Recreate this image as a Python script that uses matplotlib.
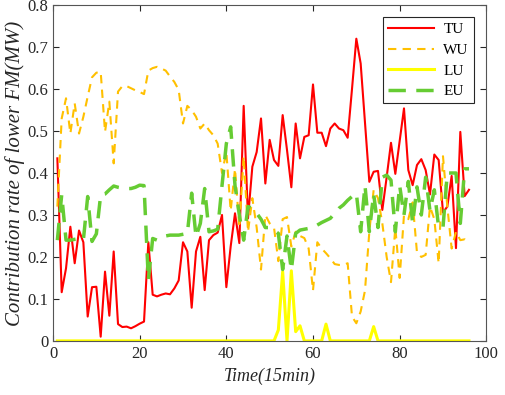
import numpy as np
import matplotlib
matplotlib.use('Agg')
import matplotlib.pyplot as plt

plt.rcParams['font.family'] = ['Liberation Serif', 'DejaVu Serif']

t = np.arange(1, 97)

tu = [0.435, 0.116, 0.173, 0.272, 0.185, 0.263, 0.235, 0.058, 0.128, 0.129,
      0.010, 0.165, 0.060, 0.213, 0.040, 0.033, 0.034, 0.030, 0.035, 0.041,
      0.046, 0.235, 0.110, 0.106, 0.110, 0.113, 0.111, 0.125, 0.144, 0.235,
      0.213, 0.079, 0.213, 0.248, 0.121, 0.240, 0.252, 0.258, 0.300, 0.128,
      0.225, 0.304, 0.233, 0.560, 0.292, 0.415, 0.450, 0.530, 0.375, 0.479,
      0.431, 0.417, 0.538, 0.455, 0.366, 0.518, 0.435, 0.486, 0.490, 0.611,
      0.496, 0.496, 0.464, 0.506, 0.518, 0.506, 0.502, 0.484, 0.600, 0.720,
      0.661, 0.520, 0.379, 0.403, 0.405, 0.312, 0.390, 0.472, 0.398, 0.476,
      0.554, 0.407, 0.371, 0.419, 0.433, 0.407, 0.349, 0.444, 0.431, 0.306,
      0.320, 0.393, 0.221, 0.498, 0.345, 0.360]

wu = [0.320, 0.530, 0.578, 0.494, 0.566, 0.494, 0.534, 0.582, 0.628, 0.639,
      0.641, 0.498, 0.570, 0.423, 0.594, 0.607, 0.607, 0.602, 0.597, 0.593,
      0.588, 0.644, 0.650, 0.653, 0.649, 0.644, 0.630, 0.617, 0.598, 0.518,
      0.560, 0.550, 0.534, 0.506, 0.518, 0.502, 0.490, 0.470, 0.400, 0.450,
      0.310, 0.410, 0.270, 0.440, 0.260, 0.340, 0.270, 0.170, 0.300, 0.280,
      0.270, 0.190, 0.290, 0.295, 0.225, 0.260, 0.250, 0.245, 0.220, 0.120,
      0.235, 0.220, 0.209, 0.197, 0.183, 0.181, 0.181, 0.185, 0.058, 0.042,
      0.070, 0.120, 0.260, 0.360, 0.340, 0.280, 0.200, 0.140, 0.270, 0.150,
      0.300, 0.290, 0.330, 0.210, 0.200, 0.205, 0.320, 0.290, 0.185, 0.440,
      0.320, 0.220, 0.260, 0.240, 0.242, 0.231]

lu = [0.0] * 51 + [0.026, 0.165, 0.0, 0.167, 0.022, 0.036, 0.0, 0.0, 0.0,
      0.0, 0.0, 0.040, 0.0, 0.0, 0.0, 0.0, 0.0, 0.0, 0.0,
      0.0, 0.0, 0.0, 0.034] + [0.0] * 22

eu = [0.240, 0.348, 0.240, 0.240, 0.242, 0.244, 0.240, 0.344, 0.237, 0.255,
      0.348, 0.350, 0.360, 0.369, 0.366, 0.364, 0.363, 0.363, 0.366, 0.371,
      0.370, 0.145, 0.244, 0.240, 0.244, 0.250, 0.252, 0.252, 0.252, 0.254,
      0.256, 0.352, 0.248, 0.280, 0.363, 0.260, 0.262, 0.266, 0.370, 0.470,
      0.510, 0.370, 0.300, 0.240, 0.320, 0.316, 0.304, 0.290, 0.270, 0.270,
      0.264, 0.256, 0.170, 0.250, 0.169, 0.256, 0.264, 0.266, 0.268, 0.270,
      0.276, 0.282, 0.287, 0.292, 0.304, 0.316, 0.324, 0.335, 0.344, 0.352,
      0.260, 0.370, 0.260, 0.350, 0.270, 0.390, 0.395, 0.383, 0.260, 0.370,
      0.300, 0.380, 0.280, 0.367, 0.300, 0.390, 0.310, 0.360, 0.270, 0.270,
      0.400, 0.400, 0.400, 0.280, 0.410, 0.410]

fig = plt.figure(figsize=(5.05, 3.95), dpi=100)
ax = fig.add_axes([0.105, 0.137, 0.858, 0.850])

ax.plot(t, tu, color='#ff0000', lw=1.5, label='TU')
ax.plot(t, wu, color='#ffc000', lw=1.5, ls=(0, (4, 3)), label='WU')
ax.plot(t, lu, color='#ffff00', lw=2.2, label='LU')
ax.plot(t, eu, color='#66cc33', lw=2.5, ls=(0, (5, 3)), label='EU')

ax.set_xlim(0, 100)
ax.set_ylim(0, 0.8)
ax.set_xticks(np.arange(0, 101, 20))
ax.set_yticks(np.arange(0, 0.81, 0.1))
ax.set_yticklabels(['0'] + ['%.1f' % v for v in np.arange(0.1, 0.81, 0.1)])
ax.tick_params(direction='in', top=True, right=True, labelsize=12,
               colors='#262626', length=4)
for s in ax.spines.values():
    s.set_color('#555555')
    s.set_linewidth(0.8)

ax.set_xlabel('Time(15min)', fontsize=13, style='italic', color='#262626')
ax.set_ylabel('Contribution rate of lower FM(MW)', fontsize=15,
              style='italic', color='#262626', labelpad=2)

leg = ax.legend(loc='upper right', fontsize=11, fancybox=False,
                edgecolor='#262626', framealpha=1, handlelength=3.0,
                handletextpad=0.6, borderpad=0.35, borderaxespad=0.8,
                labelspacing=0.45)
leg.get_frame().set_linewidth(0.8)

fig.savefig('out.png', dpi=100)
